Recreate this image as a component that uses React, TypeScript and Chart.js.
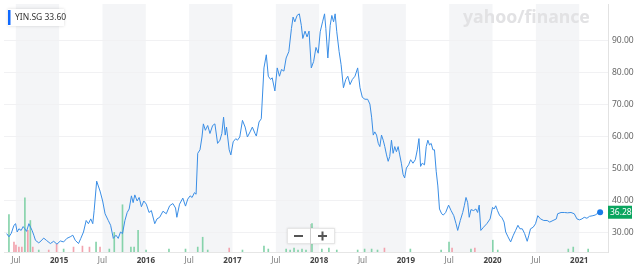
import React, { useEffect, useRef } from 'react';
import { Chart, registerables } from 'chart.js';
Chart.register(...registerables);

const symbol = 'YIN.SG';
const legendValue = '33.60';
const watermark = 'yahoo/finance';

const priceDates = [
  2014.395,2014.421,2014.448,2014.479,2014.498,2014.516,2014.536,2014.562,2014.585,2014.605,
  2014.624,2014.651,2014.670,2014.688,2014.708,2014.727,2014.765,2014.791,2014.822,2014.853,
  2014.899,2014.937,2014.975,2015.014,2015.052,2015.089,2015.128,2015.158,2015.186,2015.224,
  2015.250,2015.281,2015.312,2015.338,2015.365,2015.388,2015.404,2015.433,2015.472,2015.502,
  2015.530,2015.567,2015.594,2015.625,2015.656,2015.682,2015.708,2015.731,2015.759,2015.785,
  2015.808,2015.834,2015.854,2015.873,2015.900,2015.923,2015.949,2015.977,2016.006,2016.037,
  2016.064,2016.103,2016.129,2016.160,2016.198,2016.236,2016.275,2016.312,2016.343,2016.358,
  2016.389,2016.427,2016.458,2016.484,2016.511,2016.534,2016.561,2016.580,2016.599,2016.625,
  2016.648,2016.664,2016.687,2016.714,2016.740,2016.771,2016.797,2016.828,2016.855,2016.877,
  2016.897,2016.916,2016.931,2016.962,2016.981,2017.008,2017.038,2017.057,2017.084,2017.115,
  2017.146,2017.172,2017.203,2017.229,2017.260,2017.275,2017.306,2017.332,2017.363,2017.390,
  2017.413,2017.439,2017.458,2017.489,2017.516,2017.542,2017.565,2017.593,2017.619,2017.650,
  2017.680,2017.699,2017.719,2017.745,2017.771,2017.794,2017.811,2017.837,2017.860,2017.883,
  2017.909,2017.936,2017.963,2017.989,2018.012,2018.039,2018.062,2018.077,2018.100,2018.127,
  2018.146,2018.166,2018.184,2018.203,2018.230,2018.253,2018.280,2018.307,2018.330,2018.356,
  2018.383,2018.413,2018.444,2018.471,2018.498,2018.528,2018.559,2018.585,2018.605,2018.624,
  2018.642,2018.662,2018.682,2018.700,2018.719,2018.739,2018.757,2018.777,2018.796,2018.814,
  2018.834,2018.853,2018.872,2018.891,2018.911,2018.929,2018.948,2018.968,2018.986,2019.006,
  2019.032,2019.055,2019.082,2019.109,2019.132,2019.151,2019.170,2019.189,2019.215,2019.235,
  2019.254,2019.273,2019.292,2019.312,2019.330,2019.350,2019.369,2019.388,2019.413,2019.432,
  2019.459,2019.493,2019.522,2019.553,2019.579,2019.598,2019.628,2019.656,2019.674,2019.694,
  2019.713,2019.731,2019.751,2019.782,2019.808,2019.828,2019.846,2019.865,2019.896,2019.934,
  2019.972,2020.000,2020.018,2020.037,2020.057,2020.083,2020.106,2020.133,2020.152,2020.178,
  2020.209,2020.240,2020.266,2020.293,2020.316,2020.343,2020.370,2020.400,2020.419,2020.438,
  2020.469,2020.496,2020.522,2020.553,2020.591,2020.630,2020.660,2020.698,2020.736,2020.751,
  2020.790,2020.828,2020.866,2020.905,2020.943,2020.974,2021.004,2021.031,2021.058,2021.089,
  2021.119,2021.158,2021.184,2021.210,2021.241,
];

const priceValues = [
  29.6,28.6,29.7,32.2,32.7,30.1,31.1,30.6,31.8,31.1,
  30.3,32.7,31.6,30.6,29.1,27.5,26.7,27.3,28.2,27.5,
  26.5,27.2,26.3,27.3,27.0,28.1,28.6,29.1,27.5,26.5,
  28.1,30.1,33.7,32.7,34.2,32.7,36.8,46.0,42.9,39.8,
  35.8,33.7,32.2,28.1,29.1,28.1,30.1,29.6,33.7,36.2,
  37.3,41.4,39.3,41.7,39.8,40.9,38.0,39.8,38.8,36.2,
  36.8,32.7,34.2,34.7,36.6,35.8,38.3,39.0,37.6,34.7,
  38.8,40.7,38.2,40.4,41.4,40.9,42.4,41.9,54.7,55.8,
  59.8,63.9,61.9,63.4,60.9,63.4,63.9,57.8,58.8,60.9,
  66.0,60.4,62.9,55.8,54.2,58.3,59.3,58.8,59.8,65.0,
  62.9,59.8,61.4,62.9,60.9,60.1,64.5,65.5,81.4,85.5,
  78.8,77.8,78.3,74.2,81.4,78.8,80.9,80.4,84.5,86.5,
  93.7,97.3,95.8,97.8,98.3,94.7,90.6,92.9,91.1,92.9,
  81.4,83.4,87.8,86.0,92.7,95.8,98.3,93.7,84.5,94.7,
  97.8,95.8,98.3,92.7,86.5,82.4,75.2,77.8,78.8,76.2,
  77.8,78.8,81.4,75.2,72.2,71.6,71.6,70.1,66.0,60.4,
  61.4,60.4,57.8,56.8,60.4,58.8,56.8,54.2,52.2,53.7,
  58.8,54.7,56.8,55.2,56.8,54.2,51.6,48.1,47.0,50.1,
  51.1,52.7,51.6,52.7,55.8,59.3,50.6,51.6,51.1,56.8,
  58.8,57.3,57.8,55.8,55.8,49.1,44.5,37.3,35.8,35.4,
  36.2,38.5,36.8,35.2,32.7,30.6,33.7,36.2,38.3,40.9,
  39.3,34.7,37.1,36.8,37.3,36.2,38.5,30.6,31.6,32.7,
  34.2,37.8,37.3,38.3,36.8,35.2,34.7,33.2,30.1,28.6,
  27.0,29.1,30.6,32.2,31.1,31.1,29.6,27.2,29.1,31.1,
  31.6,32.7,35.2,34.2,33.7,33.7,33.2,33.7,34.2,35.8,
  36.2,36.2,36.1,36.2,35.8,34.2,33.9,34.2,34.7,34.4,
  35.0,35.2,35.4,35.9,36.28,
];

const volumeDates = [
  2014.421,2014.479,2014.502,2014.536,2014.570,2014.605,2014.639,2014.668,2014.696,2014.765,
  2014.880,2014.971,2015.052,2015.166,2015.269,2015.350,2015.426,2015.472,2015.579,2015.636,
  2015.731,2015.828,2015.865,2015.911,2016.003,2016.267,2016.458,2016.599,2016.656,2016.714,
  2016.962,2017.115,2017.363,2017.413,2017.619,2017.665,2017.710,2017.756,2017.802,2017.848,
  2017.917,2018.031,2018.112,2018.203,2018.444,2018.524,2018.605,2018.673,2018.753,2019.052,
  2019.407,2019.498,2019.533,2019.751,2019.796,2020.003,2020.060,2020.874,2020.931,2021.103,
];
const volumeValues = [
  760,200,140,100,100,1100,440,640,100,40,
  40,160,60,100,120,100,200,100,60,400,
  960,100,100,440,40,60,60,100,300,40,
  80,40,120,60,60,40,80,40,60,40,
  580,60,80,40,40,60,60,40,80,60,
  40,200,80,60,80,240,40,60,100,60,
];
const volumeUp = [
  1,0,0,0,0,1,0,1,0,1,
  0,0,1,0,0,0,1,0,1,1,
  1,1,1,1,1,1,1,1,1,1,
  0,1,1,1,1,1,1,1,1,1,
  1,1,1,1,1,1,1,1,0,1,
  1,1,0,1,0,1,1,1,1,1,
];

const xTickValues = [2014.5, 2015, 2015.5, 2016, 2016.5, 2017, 2017.5, 2018, 2018.5, 2019, 2019.5, 2020, 2020.5, 2021];
const xTickLabels = ['Jul', '2015', 'Jul', '2016', 'Jul', '2017', 'Jul', '2018', 'Jul', '2019', 'Jul', '2020', 'Jul', '2021'];
const yTickValues = [30, 40, 50, 60, 70, 80, 90];
const shadedHalfYears = [2014.5, 2015.5, 2016.5, 2017.5, 2018.5, 2019.5, 2020.5];

const X_MIN = 2014.364;
const X_MAX = 2021.332;
const Y_MIN = 23.85;
const Y_MAX = 101.38;
const FONT = '"Noto Sans", "DejaVu Sans", sans-serif';

const decorPlugin = {
  id: 'decor',
  beforeDraw(chart: any) {
    const { ctx, chartArea, scales } = chart;
    ctx.save();
    ctx.fillStyle = '#ffffff';
    ctx.fillRect(0, 0, chart.width, chart.height);
    ctx.fillStyle = '#f4f5f7';
    for (const s of shadedHalfYears) {
      const x1 = scales.x.getPixelForValue(s);
      const x2 = scales.x.getPixelForValue(s + 0.5);
      const l = Math.max(x1, chartArea.left);
      const r = Math.min(x2, chartArea.right);
      if (r > l) ctx.fillRect(l, chartArea.top, r - l, chartArea.bottom - chartArea.top);
    }
    ctx.restore();
  },
  beforeDatasetsDraw(chart: any) {
    const { ctx } = chart;
    ctx.save();
    let size = 16;
    ctx.font = `bold ${size}px ${FONT}`;
    const w = ctx.measureText(watermark).width;
    size = size * 127 / w;
    ctx.font = `bold ${size}px ${FONT}`;
    ctx.fillStyle = '#e2e2e4';
    ctx.textBaseline = 'alphabetic';
    ctx.textAlign = 'left';
    ctx.fillText(watermark, 463, 22.5);
    ctx.restore();
  },
  afterDraw(chart: any) {
    const { ctx, scales, chartArea } = chart;
    ctx.save();
    // legend box
    ctx.shadowColor = 'rgba(0,0,0,0.15)';
    ctx.shadowBlur = 3;
    ctx.fillStyle = '#ffffff';
    ctx.fillRect(8, 9, 56, 17);
    ctx.shadowBlur = 0;
    ctx.shadowColor = 'transparent';
    ctx.fillStyle = '#0f69ff';
    ctx.fillRect(8, 10, 2.5, 15);
    ctx.fillStyle = '#333333';
    ctx.font = `8.5px ${FONT}`;
    ctx.textBaseline = 'middle';
    ctx.textAlign = 'left';
    ctx.fillText(`${symbol} ${legendValue}`, 15, 17.5);

    // last value badge
    const lastV = priceValues[priceValues.length - 1];
    const py = scales.y.getPixelForValue(lastV);
    ctx.fillStyle = '#0aa55f';
    ctx.fillRect(chartArea.right, py - 6.5, 24, 13);
    ctx.fillStyle = '#ffffff';
    ctx.font = `8.5px ${FONT}`;
    ctx.fillText(lastV.toFixed(2), chartArea.right + 2, py + 0.5);

    // zoom buttons
    ctx.shadowColor = 'rgba(0,0,0,0.12)';
    ctx.shadowBlur = 2;
    ctx.fillStyle = '#ffffff';
    ctx.fillRect(287, 228, 48, 16);
    ctx.shadowBlur = 0;
    ctx.shadowColor = 'transparent';
    ctx.strokeStyle = '#e6e6e6';
    ctx.lineWidth = 1;
    ctx.strokeRect(287.5, 228.5, 47, 15);
    ctx.beginPath();
    ctx.moveTo(310.5, 224);
    ctx.lineTo(310.5, 252);
    ctx.strokeStyle = '#d0d0d0';
    ctx.stroke();
    ctx.strokeStyle = '#555555';
    ctx.lineWidth = 2;
    ctx.beginPath();
    ctx.moveTo(294, 236);
    ctx.lineTo(303, 236);
    ctx.moveTo(318, 236);
    ctx.lineTo(327, 236);
    ctx.moveTo(322.5, 231.5);
    ctx.lineTo(322.5, 240.5);
    ctx.stroke();
    ctx.restore();
  },
};

export default function App() {
  const canvasRef = useRef<HTMLCanvasElement | null>(null);

  useEffect(() => {
    const canvas = canvasRef.current;
    if (!canvas) return;
    const lastIndex = priceValues.length - 1;
    const chart = new Chart(canvas, {
      type: 'line',
      data: {
        datasets: [
          {
            type: 'line',
            label: symbol,
            data: priceDates.map((d, i) => ({ x: d, y: priceValues[i] })),
            borderColor: '#3a8ee6',
            borderWidth: 1,
            tension: 0,
            pointRadius: (c: any) => (c.dataIndex === lastIndex ? 3 : 0),
            pointBackgroundColor: '#1a7ae8',
            pointBorderWidth: 0,
            yAxisID: 'y',
            order: 1,
          } as any,
          {
            type: 'bar',
            label: 'Volume',
            data: volumeDates.map((d, i) => ({ x: d, y: volumeValues[i] })),
            backgroundColor: volumeUp.map((u) => (u ? '#86d3ab' : '#f2a3ae')),
            barThickness: 1,
            yAxisID: 'y2',
            order: 2,
          } as any,
        ],
      },
      options: {
        animation: false,
        responsive: false,
        maintainAspectRatio: false,
        layout: { padding: 0 },
        plugins: { legend: { display: false }, tooltip: { enabled: false } },
        scales: {
          x: {
            type: 'linear',
            min: X_MIN,
            max: X_MAX,
            offset: false,
            afterBuildTicks: (s: any) => {
              s.ticks = xTickValues.map((v) => ({ value: v }));
            },
            afterFit: (s: any) => {
              s.height = 15;
              s.paddingLeft = 0;
              s.paddingRight = 0;
            },
            grid: { display: false, drawTicks: false },
            border: { display: true, color: '#e6e6e6' },
            ticks: {
              autoSkip: false,
              maxRotation: 0,
              padding: 4,
              callback: (_v: any, i: number) => xTickLabels[i],
              color: (c: any) => (xTickLabels[c.index] === 'Jul' ? '#777777' : '#444444'),
              font: (c: any) => ({
                family: FONT,
                size: 8,
                weight: xTickLabels[c.index] === 'Jul' ? 'normal' : 'bold',
              }),
            },
          },
          y: {
            type: 'linear',
            position: 'right',
            min: Y_MIN,
            max: Y_MAX,
            afterBuildTicks: (s: any) => {
              s.ticks = yTickValues.map((v) => ({ value: v }));
            },
            afterFit: (s: any) => {
              s.width = 32;
              s.paddingTop = 0;
              s.paddingBottom = 0;
            },
            grid: { color: '#f1f1f3', drawTicks: false },
            border: { display: true, color: '#e2e2e2' },
            ticks: {
              padding: 4,
              crossAlign: 'near',
              color: '#666666',
              font: { family: FONT, size: 8.5 },
              callback: (v: any) => Number(v).toFixed(2),
            },
          },
          y2: {
            type: 'linear',
            display: false,
            min: 0,
            max: 5040,
          },
        },
      } as any,
      plugins: [decorPlugin],
    });
    return () => chart.destroy();
  }, []);

  return (
    <div style={{ position: 'fixed', left: 0, top: 0, width: 640, height: 267, background: '#fff' }}>
      <canvas ref={canvasRef} width={640} height={267} style={{ display: 'block', width: 640, height: 267 }} />
    </div>
  );
}
